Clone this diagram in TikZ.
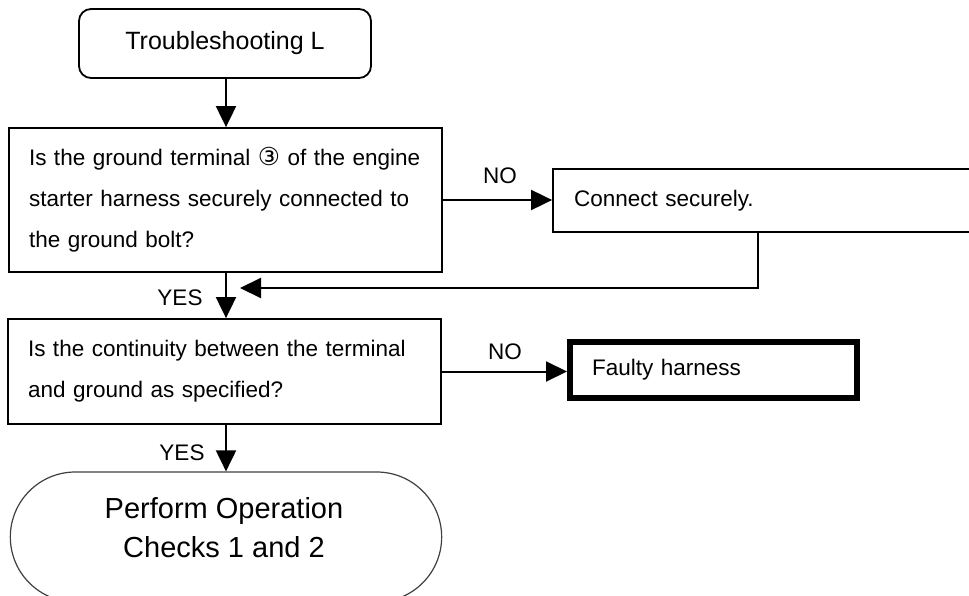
\documentclass[tikz,border=0pt]{standalone}
\usepackage{fontspec}
\setmainfont{Liberation Sans}
\newfontfamily\circfont{DejaVu Sans}[Scale=1.1]
\usetikzlibrary{arrows.meta,shapes.misc}

\begin{document}
\begin{tikzpicture}[x=1pt,y=1pt,
 quest/.style={draw=black,line width=1.8pt,align=left,inner xsep=20pt,inner ysep=0pt,
               font=\fontsize{22.5}{41}\selectfont},
 start/.style={draw=black,line width=1.8pt,rounded corners=12pt,minimum width=292pt,
               minimum height=69pt,font=\fontsize{25}{28}\selectfont},
 fix/.style={quest,inner xsep=21pt},
 fault/.style={quest,line width=6pt,inner xsep=22pt},
 finish/.style={draw=black!75,line width=1.2pt,rounded rectangle,minimum width=438pt,
                minimum height=130pt},
 flow/.style={-{Triangle[length=21pt,width=20pt]},line width=2pt},
 lab/.style={font=\fontsize{22.5}{26}\selectfont}]
\useasboundingbox (0,0) rectangle (969,-596);

\node[start] (trouble) at (225,-43.5) {Troubleshooting L};
\node[quest,text width=393pt,minimum height=144pt] (ground) at (225.5,-200)
 {Is the ground terminal {\circfont ③} of the engine\\starter harness securely connected to\\the ground bolt?};
\draw[flow] (trouble.south -| 226,0) -- (ground.north -| 226,0);

\node[fix,text width=395pt,minimum height=63pt] (connect) at (771.5,-200.5) {Connect securely.};
\draw[flow] (ground.east) -- (connect.west |- ground.east);
\node[lab] (no1) at (500,-176) {NO};

\coordinate (turn) at (758,-288);
\coordinate (merge) at (240,-288);
\draw[flow] (connect.south -| turn) -- (turn) -- (merge);

\node[quest,text width=393pt,minimum height=105pt] (check) at (224.5,-371.5)
 {Is the continuity between the terminal\\and ground as specified?};
\draw[flow] (ground.south -| 226,0) -- (check.north -| 226,0);
\node[lab] (yes1) at (180,-298) {YES};

\node[fault,text width=243pt,minimum height=56pt] (faulty) at (713.5,-370) {Faulty harness};
\draw[flow] (check.east) -- (faulty.west |- check.east);
\node[lab] (no2) at (505,-352) {NO};

\node[finish] (perform) at (226,-537) {};
\node[font=\fontsize{29}{39}\selectfont,align=center] (performtext) at (224,-528)
 {Perform Operation\\Checks 1 and 2};
\draw[flow] (check.south -| 226,0) -- (perform.north -| 226,0);
\node[lab] (yes2) at (182,-453) {YES};
\end{tikzpicture}
\end{document}
